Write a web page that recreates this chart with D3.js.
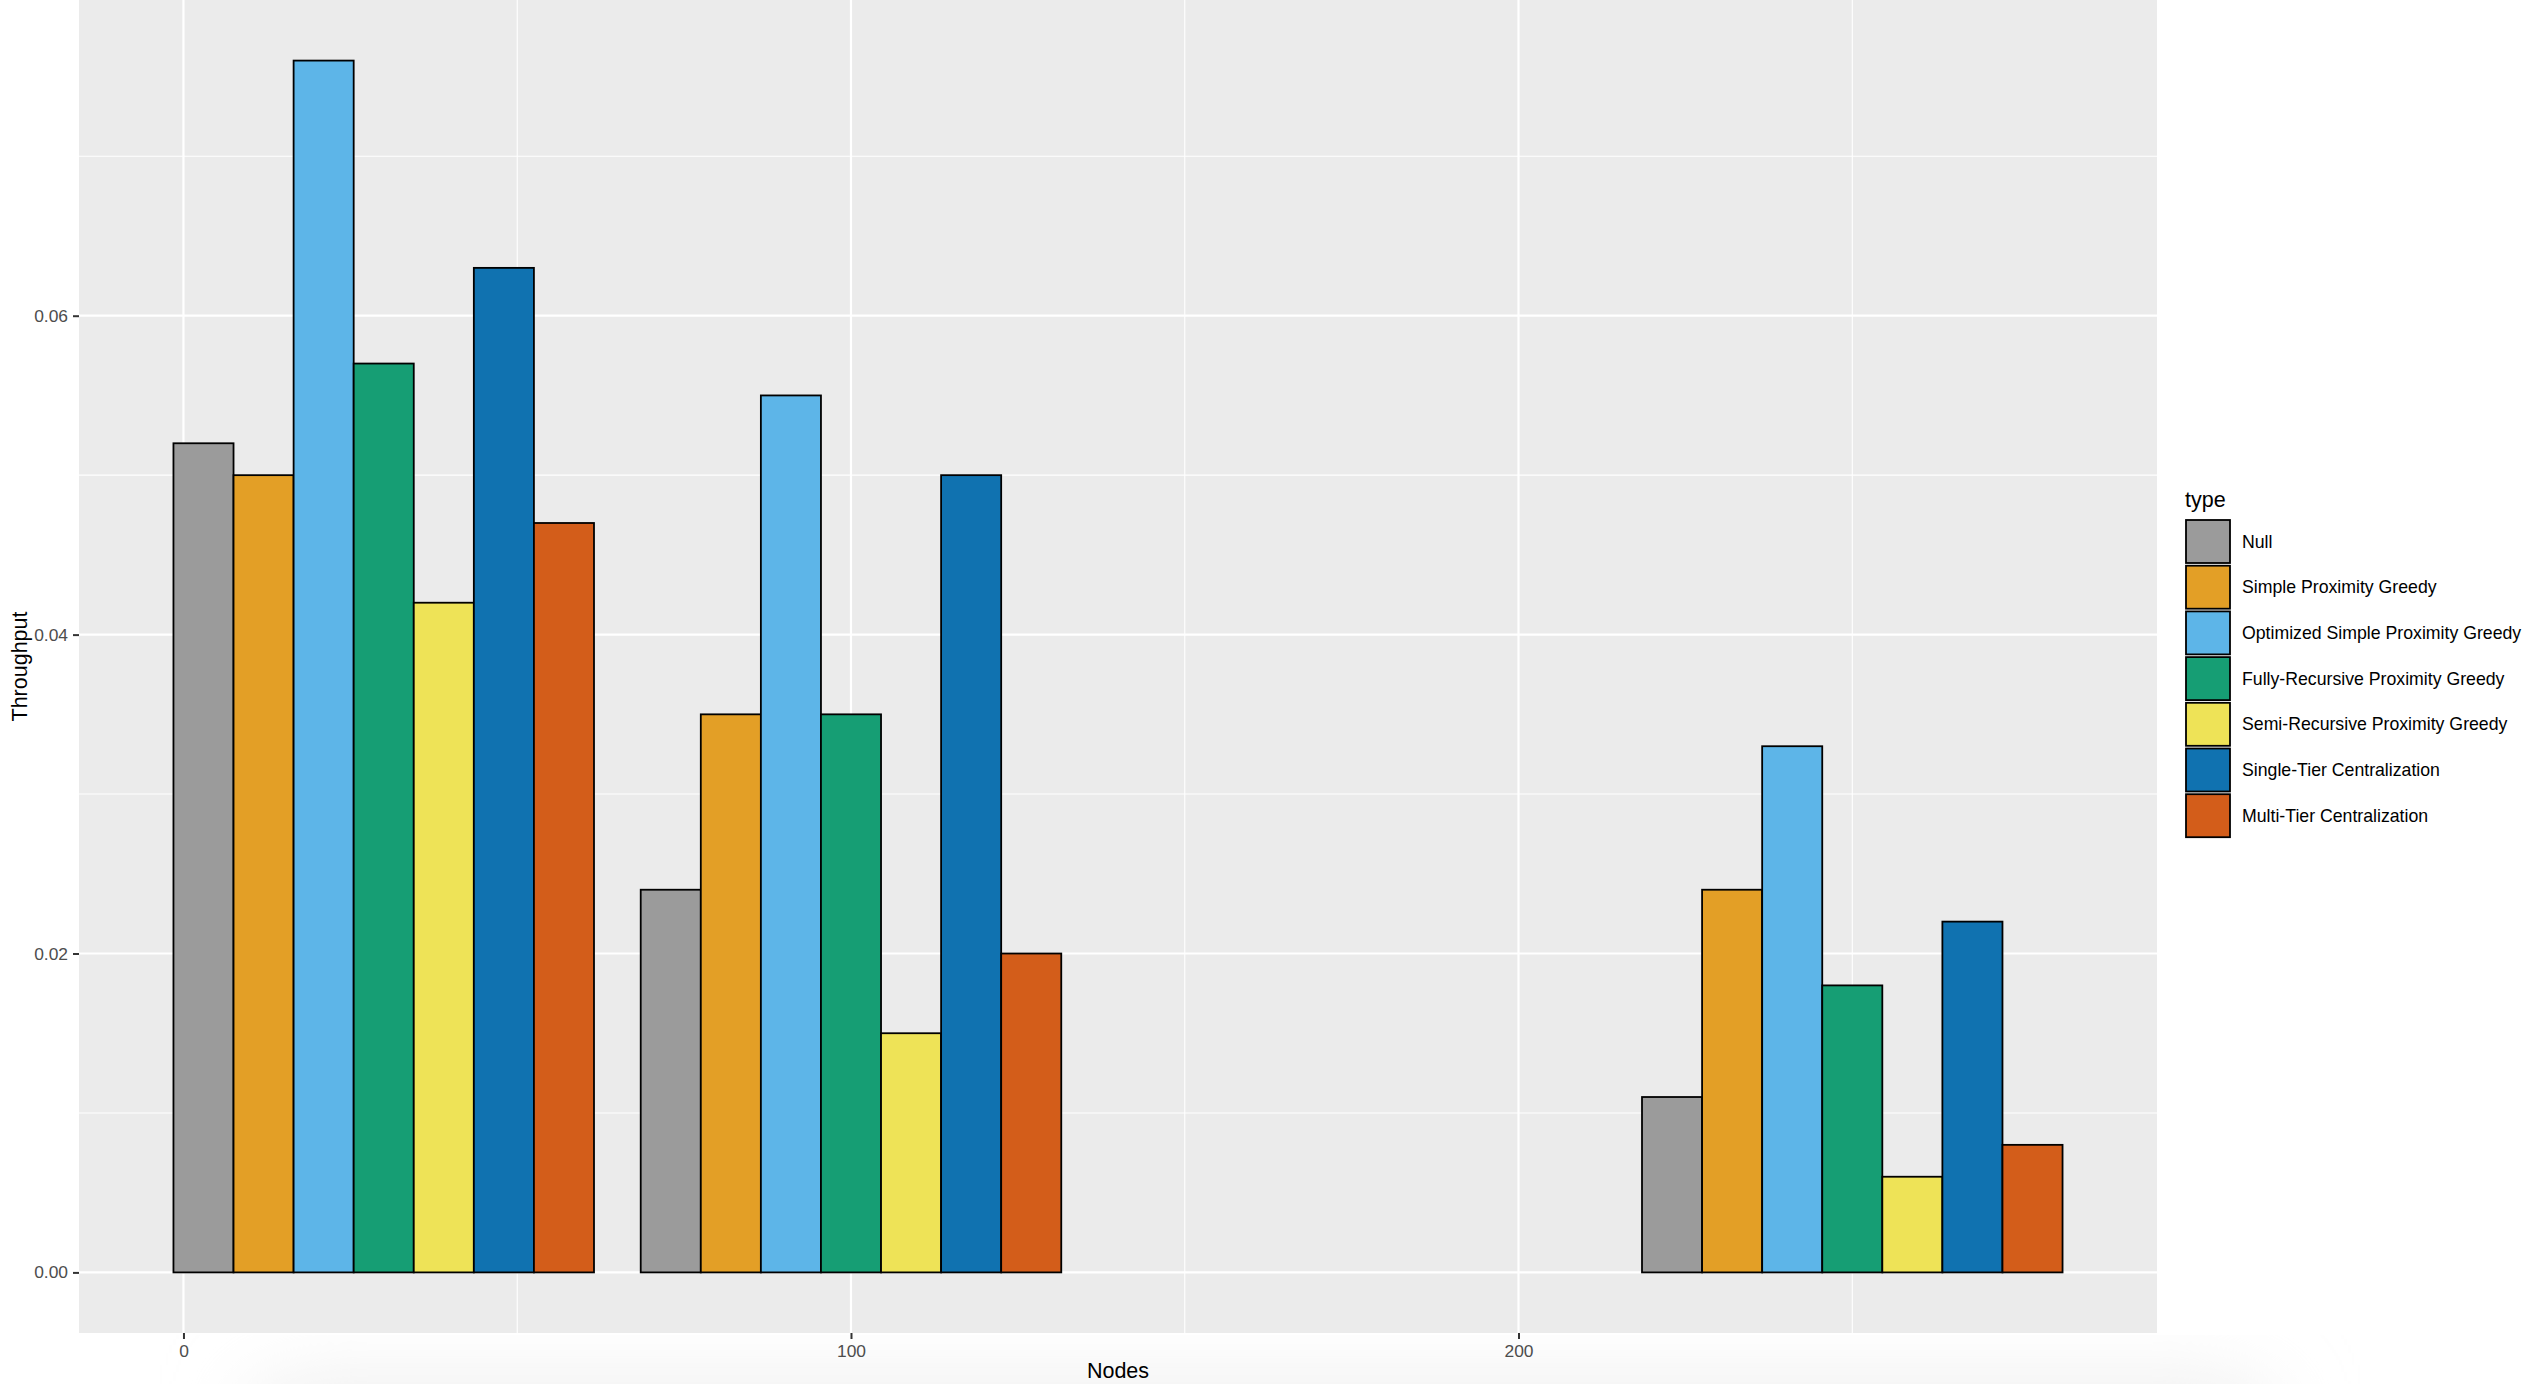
<!DOCTYPE html>
<html>
<head>
<meta charset="utf-8">
<script src="https://cdn.jsdelivr.net/npm/d3@7"></script>
<style>
  html, body { margin: 0; padding: 0; background: #ffffff; }
  svg { display: block; font-family: "Liberation Sans", Arial, Helvetica, sans-serif; }
</style>
</head>
<body>
<svg id="chart" width="2534" height="1384"></svg>
<script>
// ---- data ----
const nodes = [30, 100, 250];
const types = [
  "Null",
  "Simple Proximity Greedy",
  "Optimized Simple Proximity Greedy",
  "Fully-Recursive Proximity Greedy",
  "Semi-Recursive Proximity Greedy",
  "Single-Tier Centralization",
  "Multi-Tier Centralization"
];
const nullVals   = [0.052, 0.024, 0.011];
const spgVals    = [0.050, 0.035, 0.024];
const ospgVals   = [0.076, 0.055, 0.033];
const frpgVals   = [0.057, 0.035, 0.018];
const srpgVals   = [0.042, 0.015, 0.006];
const stcVals    = [0.063, 0.050, 0.022];
const mtcVals    = [0.047, 0.020, 0.008];
const seriesVals = [nullVals, spgVals, ospgVals, frpgVals, srpgVals, stcVals, mtcVals];
const colors = ["#9B9B9B", "#E39F26", "#5DB5E8", "#169E74", "#EEE357", "#1072B0", "#D35D1A"];
const xTicks = [0, 100, 200];
const xMinor = [50, 150, 250];
const yTicks = [0, 0.02, 0.04, 0.06];
const yMinor = [0.01, 0.03, 0.05, 0.07];

// ---- layout ----
const panel = { left: 79, right: 2157, top: 0, bottom: 1333 };
const svg = d3.select("#chart");

// bottom soft shadow
const defs = svg.append("defs");
const f = defs.append("filter").attr("id", "blur").attr("x", "-50%").attr("y", "-50%").attr("width", "200%").attr("height", "200%");
f.append("feGaussianBlur").attr("stdDeviation", 45);
svg.append("rect")
  .attr("x", 260).attr("y", 1395).attr("width", 2000).attr("height", 120)
  .attr("fill", "#e8e8e8").attr("filter", "url(#blur)");

// scales
const dodgeWidth = 0.9 * 70;
const barW = dodgeWidth / types.length;
const x = d3.scaleLinear().domain([-15.65, 295.65]).range([panel.left, panel.right]);
const y = d3.scaleLinear().domain([-0.0038, 0.0798]).range([panel.bottom, panel.top]);

// panel background
svg.append("rect")
  .attr("x", panel.left).attr("y", panel.top)
  .attr("width", panel.right - panel.left).attr("height", panel.bottom - panel.top)
  .attr("fill", "#EBEBEB");

const grid = svg.append("g");
// minor grid
grid.selectAll("line.ymin").data(yMinor).join("line")
  .attr("x1", panel.left).attr("x2", panel.right)
  .attr("y1", d => y(d)).attr("y2", d => y(d))
  .attr("stroke", "#ffffff").attr("stroke-width", 1.1);
grid.selectAll("line.xmin").data(xMinor).join("line")
  .attr("y1", panel.top).attr("y2", panel.bottom)
  .attr("x1", d => x(d)).attr("x2", d => x(d))
  .attr("stroke", "#ffffff").attr("stroke-width", 1.1);
// major grid
grid.selectAll("line.ymaj").data(yTicks).join("line")
  .attr("x1", panel.left).attr("x2", panel.right)
  .attr("y1", d => y(d)).attr("y2", d => y(d))
  .attr("stroke", "#ffffff").attr("stroke-width", 2.2);
grid.selectAll("line.xmaj").data(xTicks).join("line")
  .attr("y1", panel.top).attr("y2", panel.bottom)
  .attr("x1", d => x(d)).attr("x2", d => x(d))
  .attr("stroke", "#ffffff").attr("stroke-width", 2.2);

// bars
const barData = [];
nodes.forEach((n, gi) => {
  seriesVals.forEach((vals, si) => {
    barData.push({ n, si, v: vals[gi] });
  });
});
svg.append("g").selectAll("rect").data(barData).join("rect")
  .attr("x", d => x(d.n - dodgeWidth / 2 + d.si * barW))
  .attr("width", d => x(d.n - dodgeWidth / 2 + (d.si + 1) * barW) - x(d.n - dodgeWidth / 2 + d.si * barW))
  .attr("y", d => y(d.v))
  .attr("height", d => y(0) - y(d.v))
  .attr("fill", d => colors[d.si])
  .attr("stroke", "#000000").attr("stroke-width", 1.8);

// y axis
const yAxis = d3.axisLeft(y).tickValues(yTicks).tickFormat(d3.format(".2f")).tickSize(6).tickPadding(5);
const gy = svg.append("g").attr("transform", `translate(${panel.left},0)`).call(yAxis);
gy.select(".domain").remove();
gy.selectAll(".tick line").attr("stroke", "#333333").attr("stroke-width", 2);
gy.selectAll(".tick text").attr("fill", "#4D4D4D").attr("font-size", "17.4px")
  .attr("font-family", "Liberation Sans, Arial, sans-serif");

// x axis
const xAxis = d3.axisBottom(x).tickValues(xTicks).tickFormat(d3.format("d")).tickSize(6).tickPadding(6);
const gx = svg.append("g").attr("transform", `translate(0,${panel.bottom})`).call(xAxis);
gx.select(".domain").remove();
gx.selectAll(".tick line").attr("stroke", "#333333").attr("stroke-width", 2);
gx.selectAll(".tick text").attr("fill", "#4D4D4D").attr("font-size", "17.4px")
  .attr("font-family", "Liberation Sans, Arial, sans-serif");

// axis titles
svg.append("text")
  .attr("x", (panel.left + panel.right) / 2).attr("y", 1378)
  .attr("text-anchor", "middle").attr("font-size", "21.5px").attr("fill", "#000")
  .text("Nodes");
svg.append("text")
  .attr("transform", `translate(27,${(panel.top + panel.bottom) / 2}) rotate(-90)`)
  .attr("text-anchor", "middle").attr("font-size", "21.5px").attr("fill", "#000")
  .text("Throughput");

// legend
const lg = svg.append("g").attr("transform", "translate(2186,0)");
lg.append("text").attr("x", -1).attr("y", 507).attr("font-size", "21.5px").attr("fill", "#000").text("type");
const keyPitch = 45.7, keyTop = 520, keySize = 43;
const items = lg.selectAll("g.item").data(types).join("g")
  .attr("transform", (d, i) => `translate(0,${keyTop + i * keyPitch})`);
items.append("rect")
  .attr("x", 0).attr("y", 0).attr("width", 44).attr("height", keySize)
  .attr("fill", (d, i) => colors[i]).attr("stroke", "#000").attr("stroke-width", 1.8);
items.append("text")
  .attr("x", 56).attr("y", keySize / 2).attr("dy", "0.35em")
  .attr("font-size", "17.7px").attr("fill", "#000")
  .text(d => d);
</script>
</body>
</html>
